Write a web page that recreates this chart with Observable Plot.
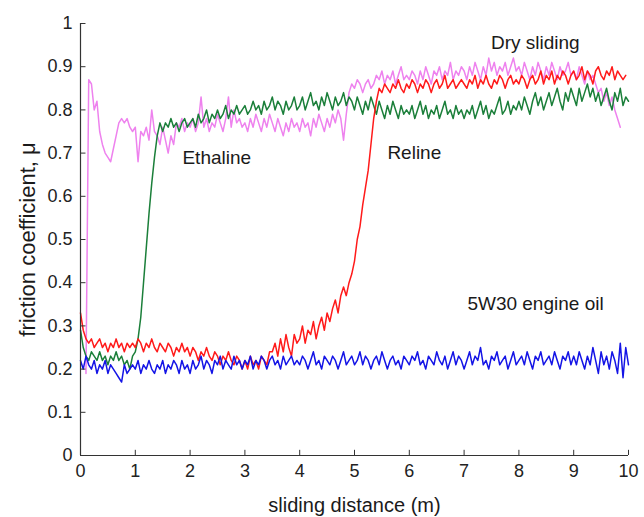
<!DOCTYPE html>
<html>
<head>
<meta charset="utf-8">
<script src="https://cdn.jsdelivr.net/npm/d3@7"></script>
<script src="https://cdn.jsdelivr.net/npm/@observablehq/plot@0.6"></script>
<style>
  html, body { margin: 0; padding: 0; background: #fff; }
  #chart { width: 644px; height: 517px; }
</style>
</head>
<body>
<div id="chart"></div>
<script>
// sampling grid: 0, 0.05, ... 10 m
const distance = d3.range(201).map(i => +(i * 0.05).toFixed(2));

const xTicks = [0, 1, 2, 3, 4, 5, 6, 7, 8, 9, 10];
const yTicks = [0, 0.1, 0.2, 0.3, 0.4, 0.5, 0.6, 0.7, 0.8, 0.9, 1];
const yTickLabels = ["0", "0.1", "0.2", "0.3", "0.4", "0.5", "0.6", "0.7", "0.8", "0.9", "1"];

const seriesNames = ["Dry sliding", "Ethaline", "Reline", "5W30 engine oil"];
const seriesColors = ["#ee82ee", "#1b7f3a", "#ff1a1a", "#1414e6"];

const drySliding = [
  null,null,0.19,0.87,0.86,0.80,0.82,0.75,0.72,0.70,0.69,0.68,0.71,0.74,0.77,0.78,0.77,0.78,0.76,0.75,
  0.76,0.68,0.75,0.74,0.76,0.73,0.80,0.75,0.74,0.72,0.76,0.73,0.70,0.74,0.72,0.77,0.76,0.78,0.75,0.77,
  0.76,0.78,0.75,0.77,0.83,0.76,0.78,0.75,0.77,0.76,0.79,0.77,0.75,0.78,0.83,0.76,0.80,0.77,0.78,0.76,
  0.77,0.75,0.78,0.76,0.79,0.77,0.75,0.78,0.76,0.79,0.77,0.75,0.78,0.76,0.74,0.77,0.75,0.78,0.76,0.77,
  0.75,0.78,0.76,0.77,0.74,0.78,0.76,0.79,0.77,0.75,0.78,0.76,0.79,0.77,0.80,0.78,0.73,0.79,0.84,0.86,
  0.85,0.87,0.86,0.84,0.86,0.87,0.85,0.86,0.88,0.87,0.89,0.86,0.88,0.87,0.89,0.86,0.88,0.90,0.87,0.88,
  0.87,0.89,0.88,0.86,0.89,0.87,0.90,0.88,0.86,0.89,0.88,0.90,0.87,0.89,0.88,0.91,0.87,0.89,0.88,0.90,
  0.89,0.87,0.90,0.88,0.91,0.89,0.87,0.90,0.88,0.92,0.89,0.91,0.88,0.90,0.89,0.91,0.88,0.90,0.92,0.89,
  0.90,0.88,0.91,0.89,0.87,0.90,0.88,0.91,0.89,0.87,0.90,0.88,0.91,0.89,0.87,0.90,0.88,0.89,0.91,0.88,
  0.89,0.87,0.90,0.88,0.86,0.89,0.87,0.88,0.86,0.84,0.85,0.82,0.84,0.81,0.83,0.80,0.78,0.76,null,null,
  null
];

const ethaline = [
  0.29,0.25,0.23,0.22,0.24,0.23,0.22,0.24,0.22,0.23,0.21,0.23,0.22,0.24,0.22,0.23,0.21,0.22,0.20,0.23,
  0.24,0.27,0.32,0.40,0.48,0.56,0.63,0.69,0.74,0.77,0.75,0.77,0.76,0.78,0.76,0.77,0.75,0.77,0.78,0.76,
  0.77,0.78,0.76,0.79,0.77,0.78,0.80,0.77,0.79,0.78,0.80,0.78,0.79,0.81,0.78,0.80,0.79,0.81,0.79,0.80,
  0.81,0.79,0.80,0.82,0.80,0.81,0.79,0.82,0.80,0.81,0.83,0.80,0.82,0.81,0.79,0.82,0.80,0.81,0.83,0.80,
  0.81,0.83,0.80,0.82,0.84,0.81,0.82,0.80,0.83,0.81,0.84,0.82,0.80,0.83,0.81,0.82,0.84,0.81,0.83,0.82,
  0.80,0.83,0.81,0.79,0.82,0.80,0.83,0.81,0.79,0.82,0.80,0.78,0.81,0.79,0.82,0.80,0.78,0.81,0.79,0.80,
  0.79,0.81,0.78,0.80,0.82,0.79,0.81,0.78,0.80,0.79,0.81,0.78,0.80,0.82,0.79,0.80,0.78,0.81,0.79,0.80,
  0.78,0.80,0.79,0.81,0.78,0.80,0.82,0.79,0.81,0.78,0.80,0.79,0.81,0.83,0.79,0.80,0.82,0.79,0.81,0.80,
  0.82,0.80,0.83,0.81,0.79,0.82,0.84,0.81,0.83,0.80,0.82,0.84,0.81,0.83,0.85,0.82,0.80,0.84,0.82,0.85,
  0.83,0.81,0.85,0.82,0.84,0.86,0.83,0.85,0.82,0.84,0.81,0.83,0.85,0.82,0.80,0.84,0.82,0.85,0.81,0.83,
  0.82
];

const reline = [
  0.33,0.29,0.27,0.26,0.27,0.25,0.26,0.27,0.25,0.26,0.24,0.26,0.25,0.27,0.25,0.26,0.24,0.26,0.25,0.26,
  0.25,0.27,0.26,0.24,0.26,0.25,0.27,0.25,0.24,0.26,0.25,0.24,0.26,0.25,0.23,0.25,0.24,0.26,0.24,0.25,
  0.23,0.25,0.24,0.22,0.24,0.23,0.25,0.23,0.22,0.24,0.23,0.21,0.23,0.22,0.24,0.22,0.21,0.23,0.22,0.20,
  0.22,0.20,0.23,0.21,0.22,0.20,0.23,0.22,0.21,0.24,0.24,0.26,0.23,0.27,0.24,0.28,0.25,0.23,0.28,0.26,
  0.27,0.30,0.26,0.29,0.28,0.31,0.27,0.30,0.32,0.29,0.33,0.31,0.34,0.36,0.33,0.37,0.39,0.37,0.40,0.42,
  0.45,0.50,0.53,0.58,0.62,0.66,0.72,0.78,0.82,0.85,0.84,0.86,0.85,0.84,0.86,0.85,0.87,0.85,0.84,0.86,
  0.85,0.87,0.86,0.84,0.86,0.85,0.87,0.86,0.84,0.86,0.87,0.85,0.86,0.88,0.85,0.86,0.87,0.85,0.86,0.87,
  0.86,0.85,0.87,0.86,0.88,0.85,0.87,0.86,0.88,0.86,0.85,0.87,0.86,0.88,0.87,0.85,0.87,0.88,0.86,0.87,
  0.86,0.88,0.87,0.85,0.87,0.88,0.86,0.87,0.89,0.86,0.88,0.87,0.89,0.86,0.88,0.87,0.89,0.88,0.86,0.88,
  0.89,0.87,0.88,0.90,0.87,0.89,0.88,0.86,0.89,0.90,0.88,0.87,0.89,0.88,0.90,0.87,0.89,0.88,0.87,0.88,
  null
];

const engineOil = [
  0.22,0.20,0.23,0.21,0.20,0.22,0.19,0.21,0.20,0.22,0.19,0.21,0.20,0.19,0.18,0.17,0.21,0.19,0.20,0.21,
  0.20,0.22,0.19,0.21,0.20,0.22,0.20,0.19,0.21,0.20,0.22,0.19,0.21,0.20,0.22,0.21,0.19,0.22,0.20,0.21,
  0.19,0.22,0.20,0.21,0.23,0.20,0.22,0.21,0.19,0.22,0.21,0.23,0.20,0.22,0.21,0.20,0.23,0.21,0.22,0.20,
  0.22,0.21,0.23,0.20,0.22,0.21,0.23,0.22,0.20,0.22,0.23,0.21,0.22,0.20,0.23,0.21,0.22,0.23,0.21,0.22,
  0.21,0.23,0.22,0.20,0.22,0.24,0.21,0.22,0.20,0.23,0.22,0.21,0.23,0.22,0.20,0.22,0.24,0.21,0.22,0.23,
  0.21,0.22,0.24,0.21,0.23,0.22,0.20,0.22,0.23,0.21,0.24,0.22,0.20,0.22,0.23,0.21,0.22,0.20,0.23,0.22,
  0.21,0.23,0.22,0.24,0.21,0.22,0.20,0.23,0.22,0.21,0.24,0.22,0.21,0.23,0.20,0.22,0.24,0.21,0.23,0.22,
  0.20,0.22,0.24,0.21,0.23,0.22,0.25,0.21,0.22,0.20,0.23,0.22,0.24,0.21,0.22,0.23,0.20,0.22,0.24,0.21,
  0.22,0.23,0.21,0.24,0.22,0.20,0.23,0.22,0.24,0.21,0.22,0.23,0.21,0.24,0.22,0.20,0.23,0.22,0.24,0.21,
  0.23,0.21,0.24,0.22,0.20,0.23,0.21,0.25,0.22,0.19,0.24,0.21,0.23,0.20,0.24,0.22,0.19,0.26,0.18,0.25,
  0.21
];

const seriesValues = [drySliding, ethaline, reline, engineOil];

// in-plot annotation labels (data coordinates)
const labelText = ["Dry sliding", "Ethaline", "Reline", "5W30 engine oil"];
const labelX = [8.3, 1.86, 5.6, 7.06];
const labelY = [0.955, 0.69, 0.70, 0.35];
const labelAnchor = ["middle", "start", "start", "start"];

const rows = seriesNames.flatMap((name, s) =>
  seriesValues[s].map((v, i) => ({x: distance[i], y: v, name}))
);
const labels = labelText.map((t, i) => ({t, x: labelX[i], y: labelY[i], a: labelAnchor[i]}));
const yTickRows = yTicks.map((v, i) => ({v, t: yTickLabels[i]}));

const axisColor = "#333";
const textColor = "#1a1a1a";

const chart = Plot.plot({
  width: 644,
  height: 517,
  marginLeft: 80,
  marginRight: 16,
  marginTop: 23,
  marginBottom: 62,
  style: {fontFamily: "'Liberation Sans', Arial, sans-serif", background: "#fff"},
  x: {domain: [0, 10], label: null, axis: null},
  y: {domain: [0, 1], label: null, axis: null},
  color: {domain: seriesNames, range: seriesColors},
  marks: [
    Plot.line(rows, {x: "x", y: "y", z: "name", stroke: "name", strokeWidth: 1.5}),
    Plot.ruleX([0], {stroke: axisColor, strokeWidth: 1.2}),
    Plot.ruleY([0], {stroke: axisColor, strokeWidth: 1.2}),
    // inward tick marks
    Plot.ruleY(yTicks, {y: d => d, x1: 0, x2: 0.1, stroke: axisColor}),
    Plot.ruleX(xTicks, {x: d => d, y1: 0, y2: 0.012, stroke: axisColor}),
    // tick labels
    Plot.text(yTickRows, {y: "v", text: "t", frameAnchor: "left", dx: -8, textAnchor: "end", fontSize: 18, fill: "#222"}),
    Plot.text(xTicks, {x: d => d, text: d => String(d), frameAnchor: "bottom", dy: 21, fontSize: 18, fill: "#222"}),
    // annotations
    Plot.text(labels.filter(d => d.a === "middle"), {x: "x", y: "y", text: "t", textAnchor: "middle", fontSize: 19, fill: textColor}),
    Plot.text(labels.filter(d => d.a === "start"), {x: "x", y: "y", text: "t", textAnchor: "start", fontSize: 19, fill: textColor}),
    // axis titles
    Plot.text(["friction coefficient, μ"], {frameAnchor: "left", textAnchor: "middle", dx: -53, rotate: -90, fontSize: 22, fill: textColor}),
    Plot.text(["sliding distance (m)"], {frameAnchor: "bottom", textAnchor: "middle", dy: 56, fontSize: 20, fill: textColor})
  ]
});
document.getElementById("chart").appendChild(chart);
</script>
</body>
</html>
